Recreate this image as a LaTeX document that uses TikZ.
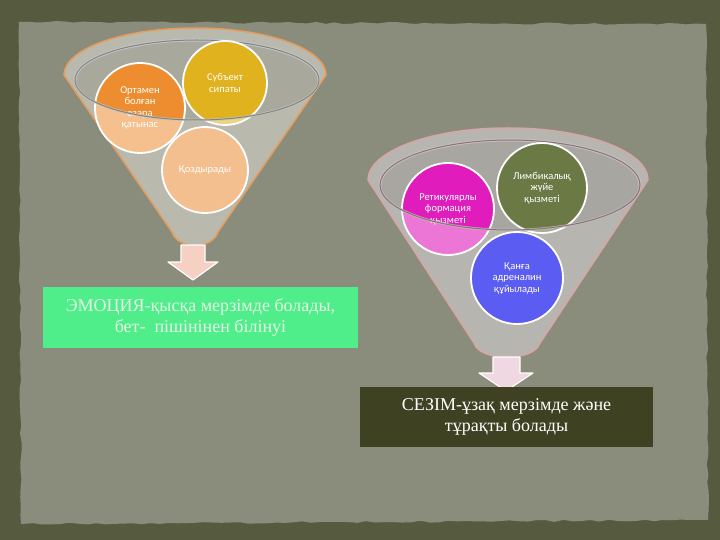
\documentclass[tikz,border=0pt]{standalone}
\usepackage{fontspec}
\setmainfont{Liberation Serif}
\newfontfamily\circfont{Carlito}
\usetikzlibrary{decorations.pathmorphing}
\definecolor{bgdark}{HTML}{565B40}
\definecolor{paper}{HTML}{8A8D7C}
\definecolor{fgreyA}{HTML}{B9B9AE}
\definecolor{finA}{HTML}{A9A89D}
\definecolor{foutA}{HTML}{E89C5C}
\definecolor{frimA}{HTML}{BCC6CC}
\definecolor{flineA}{HTML}{8C8272}
\definecolor{fgreyB}{HTML}{B7B5B0}
\definecolor{finB}{HTML}{A8A6A1}
\definecolor{foutB}{HTML}{D9A5A8}
\definecolor{frimB}{HTML}{C9BCC0}
\definecolor{flineB}{HTML}{857675}
\definecolor{corange}{HTML}{EE8D30}
\definecolor{cyellow}{HTML}{DFB21E}
\definecolor{cpeach}{HTML}{F4BF8F}
\definecolor{cmagenta}{HTML}{E01CBC}
\definecolor{colive}{HTML}{6B7945}
\definecolor{cblue}{HTML}{5B5CF2}
\definecolor{boxgreen}{HTML}{50EE8A}
\definecolor{boxgreentext}{HTML}{E6F4E4}
\definecolor{boxdark}{HTML}{3E4222}
\definecolor{arrowA}{HTML}{F6D0C2}
\definecolor{arrowB}{HTML}{F0D8E2}
\begin{document}
\begin{tikzpicture}[x=1pt,y=1pt,yscale=-1,
  circ/.style={circle, draw=white, line width=1.8pt, inner sep=0pt, text=white,
    align=center, font=\circfont\fontsize{10.5}{11.5}\selectfont},
  bigbox/.style={rectangle, inner sep=0pt, align=center,
    font=\fontsize{18}{21}\selectfont},
  blockarrow/.style={draw=white, line width=1.2pt, line join=round}]
\useasboundingbox (0,0) rectangle (720,540);
\fill[bgdark] (0,0) rectangle (720,540);
\pgfmathsetseed{7}
\fill[paper, decorate, decoration={random steps, segment length=9pt, amplitude=1pt}]
  (19,22) -- (706,24) -- (708,520) -- (21,524) -- cycle;

% ---------- Funnel 1 ----------
\fill[fgreyA] (64,75) arc[start angle=180,end angle=360,x radius=131,y radius=47]
  -- (218,232) .. controls (212,250) and (178,250) .. (172,232) -- cycle;
\draw[foutA, line width=1.5pt] (64,75) arc[start angle=180,end angle=360,x radius=131,y radius=47]
  -- (218,232) .. controls (212,250) and (178,250) .. (172,232) -- cycle;
\fill[finA] (197,80) ellipse [x radius=122, y radius=40];
\draw[frimA, line width=3pt] (75,80) arc[start angle=180,end angle=360,x radius=122,y radius=40];
\draw[flineA, line width=1pt] (75,80) arc[start angle=180,end angle=360,x radius=122,y radius=40];

\node[circ, fill=corange, minimum size=90pt] (ort) at (140,108) {Ортамен\\болған\\өзара\\қатынас};
\node[circ, fill=cyellow, minimum size=84pt] (sub) at (225,83) {Субъект\\сипаты};
\begin{scope}
  \clip (140,108) circle[radius=45] (225,83) circle[radius=42];
  \fill[white, opacity=.45, even odd rule] (0,0) rectangle (720,540)
    (197,80) ellipse [x radius=122, y radius=40];
\end{scope}
\draw[frimA, line width=2.5pt, opacity=.8] (319,80) arc[start angle=0,end angle=180,x radius=122,y radius=40];
\draw[flineA, line width=1pt] (319,80) arc[start angle=0,end angle=180,x radius=122,y radius=40];
\node[circ, fill=cpeach, minimum size=86pt] (koz) at (205,170) {Қоздырады};

% ---------- Funnel 2 ----------
\fill[fgreyB] (368,180) arc[start angle=180,end angle=360,x radius=140,y radius=52]
  -- (540,343) .. controls (534,362) and (480,362) .. (474,343) -- cycle;
\draw[foutB, line width=1.5pt] (368,180) arc[start angle=180,end angle=360,x radius=140,y radius=52]
  -- (540,343) .. controls (534,362) and (480,362) .. (474,343) -- cycle;
\fill[finB] (510,185) ellipse [x radius=130, y radius=45];
\draw[frimB, line width=3pt] (380,185) arc[start angle=180,end angle=360,x radius=130,y radius=45];
\draw[flineB, line width=1pt] (380,185) arc[start angle=180,end angle=360,x radius=130,y radius=45];

\node[circ, fill=cmagenta, minimum size=92pt] (ret) at (448,209) {Ретикулярлы\\формация\\қызметі};
\node[circ, fill=colive, minimum size=90pt] (lim) at (542,188) {Лимбикалық\\жүйе\\қызметі};
\begin{scope}
  \clip (448,209) circle[radius=46] (542,188) circle[radius=45];
  \fill[white, opacity=.4, even odd rule] (0,0) rectangle (720,540)
    (510,185) ellipse [x radius=130, y radius=45];
\end{scope}
\draw[frimB, line width=2.5pt, opacity=.8] (640,185) arc[start angle=0,end angle=180,x radius=130,y radius=45];
\draw[flineB, line width=1pt] (640,185) arc[start angle=0,end angle=180,x radius=130,y radius=45];
\node[circ, fill=cblue, minimum size=92pt] (kan) at (517,278) {Қанға\\адреналин\\құйылады};

% ---------- Arrows ----------
\filldraw[blockarrow, fill=arrowA] (181,245) -- (205,245) -- (205,262) -- (218,262)
  -- (193,280) -- (168,262) -- (181,262) -- cycle;
\filldraw[blockarrow, fill=arrowB] (493,357) -- (520,357) -- (520,373) -- (533,373)
  -- (506,391) -- (479,373) -- (493,373) -- cycle;

% ---------- Boxes ----------
\node[bigbox, fill=boxgreen, text=boxgreentext, minimum width=315pt, minimum height=61pt]
  (emo) at (200.5,317.5) {ЭМОЦИЯ-қысқа мерзімде болады,\\бет-~ пішінінен білінуі};
\node[bigbox, fill=boxdark, text=white, minimum width=293pt, minimum height=60pt]
  (sez) at (506.5,417) {СЕЗІМ-ұзақ мерзімде және\\тұрақты болады};
\end{tikzpicture}
\end{document}
